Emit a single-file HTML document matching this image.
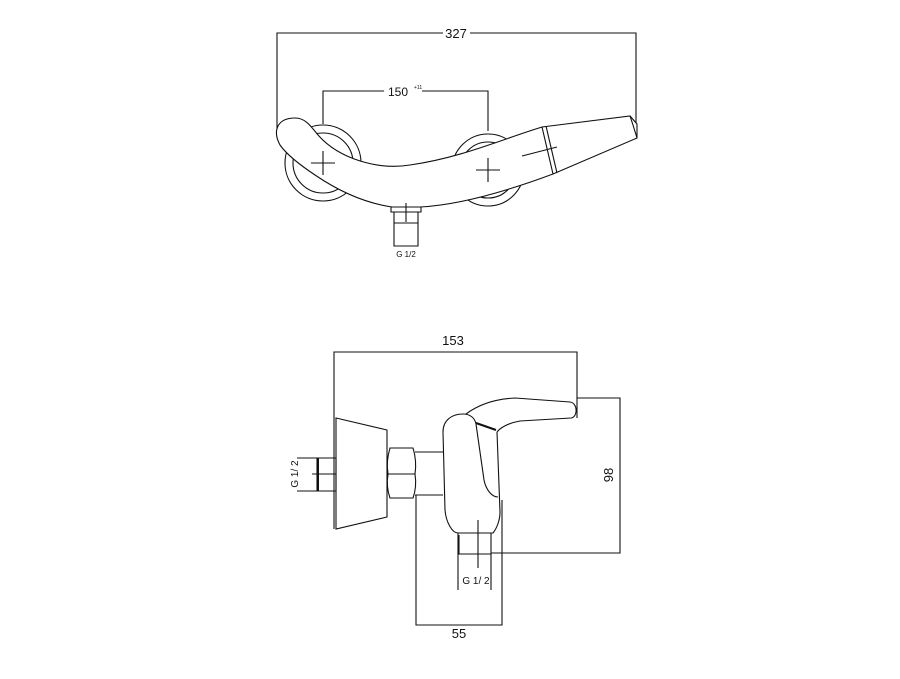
<!DOCTYPE html>
<html><head><meta charset="utf-8"><style>html,body{margin:0;padding:0;background:#fff}svg{display:block}</style></head><body>
<svg width="900" height="679" viewBox="0 0 900 679" xmlns="http://www.w3.org/2000/svg" font-family="Liberation Sans, sans-serif" fill="none" stroke="#111" stroke-width="1.1">
<!-- TOP VIEW -->
<path d="M277 130 V33 H443 M470 33 H636 V137" />
<text x="456" y="38" font-size="13" fill="#111" stroke="none" text-anchor="middle">327</text>
<path d="M323 124 V91 H384 M422 91 H488 V131" />
<text x="398" y="96" font-size="12" fill="#111" stroke="none" text-anchor="middle">150</text>
<text x="414" y="89" font-size="5" fill="#111" stroke="none">+11</text>
<circle cx="323" cy="163" r="38"/>
<circle cx="323" cy="163" r="30"/>
<circle cx="488" cy="170" r="36"/>
<circle cx="488" cy="170" r="28"/>
<path d="M280 145 C272 130 278 118 295 118 C305 118 310 125 318 135 C340 160 380 170 410 165 C460 158 500 140 542 127 L630 116 L637 124 L637 138 L553 174 C510 190 460 205 420 207 L392 207 C365 203 340 192 315 175 C300 165 287 155 280 145 Z" fill="#fff"/>
<path d="M542 127 L553 174 M546 126 L557 173"/>
<path d="M630 116 L633 125 L637 138"/>
<path d="M311 163 H335 M323 151 V175 M476 170 H500 M488 158 V182 M522 156 L557 147"/>
<path d="M391 207 H421 V212 H391 Z" fill="#fff"/>
<path d="M394 212 V246 H418 V212 M394 223 H418 M406 203 V222"/>
<text x="406" y="257" font-size="8" fill="#111" stroke="none" text-anchor="middle">G 1/2</text>

<!-- SIDE VIEW -->
<text x="453" y="345" font-size="13" fill="#111" stroke="none" text-anchor="middle">153</text>
<path d="M334 529 V352 H577 V418"/>
<path d="M336 418 L387 430 L387 517 L336 529 Z"/>
<path d="M317 458 H336 V491 H317 Z M297 458 H317 M297 491 H317 M312 474 H336"/>
<path d="M318 458 V491" stroke-width="2"/>
<text transform="translate(298,474) rotate(-90)" font-size="10" fill="#111" stroke="none" text-anchor="middle">G 1/ 2</text>
<path d="M390 448 H413 Q417 461 415 474 Q417 487 413 498 H390 Q386 487 388 474 Q386 461 390 448 Z M388 474 H415"/>
<path d="M415 452 H443 M415 495 H443"/>
<path d="M443 432 C443 420 452 414 463 414 C470 414 475 418 476 424 M443 432 L445 510 C446 522 452 533 458 533 L493 533 C497 528 500 520 500 512 L497 432"/>
<path d="M476 424 L484 480 C486 490 492 497 498 497"/>
<path d="M466 414 C478 405 495 399 515 398 L570 402 C578 403 578 417 571 418 L520 421 C508 423 500 428 497 432"/>
<path d="M476 423 L496 430" stroke-width="2"/>
<path d="M458 533 V554 H491 V533 M459 535 V554" />
<path d="M478 520 V568 M458 554 V590 M491 554 V590"/>
<text x="476" y="584" font-size="10" fill="#111" stroke="none" text-anchor="middle">G 1/ 2</text>
<path d="M577 398 H620 V553 H491"/>
<text transform="translate(613,475) rotate(-90)" font-size="13" fill="#111" stroke="none" text-anchor="middle">98</text>
<path d="M416 495 V625 H502 V500"/>
<text x="459" y="638" font-size="13" fill="#111" stroke="none" text-anchor="middle">55</text>
</svg>
</body></html>
